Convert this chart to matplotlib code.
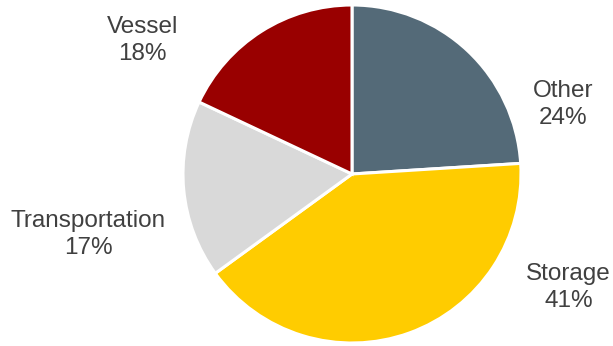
import matplotlib.pyplot as plt

plt.rcParams['font.family'] = ['Liberation Sans', 'DejaVu Sans']

categories = ['Other', 'Storage', 'Transportation', 'Vessel']
shares = [24, 41, 17, 18]
colors = ['#546A78', '#FFCC00', '#D9D9D9', '#990000']

# label anchor points in data units (pie radius = 1)
label_pos = [(1.25, 0.41), (1.28, -0.67), (-1.56, -0.36), (-1.24, 0.79)]

fig = plt.figure(figsize=(6.13, 3.46), dpi=100)
ax = fig.add_axes([183 / 613, 3 / 346, 338 / 613, 338 / 346])

ax.pie(shares, colors=colors, startangle=90, counterclock=False,
       wedgeprops=dict(edgecolor='white', linewidth=2.2))
ax.set_xlim(-1, 1)
ax.set_ylim(-1, 1)
ax.set_aspect('equal')

for name, val, (x, y) in zip(categories, shares, label_pos):
    ax.text(x, y, f'{name}\n{val}%', ha='center', va='center',
            fontsize=17.5, color='#404040', linespacing=1.3)

fig.savefig('out.png', dpi=100)
